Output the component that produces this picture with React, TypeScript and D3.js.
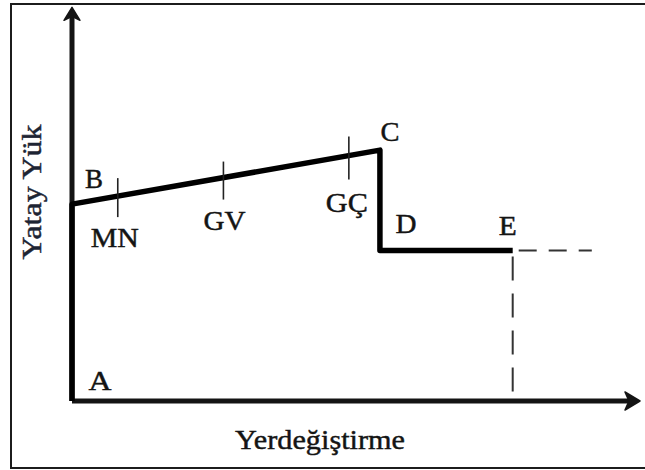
import React from "react";
import * as d3 from "d3";

// Data (abstract units, domain 0..100 on both axes)
const curveNames = ["A", "B", "C", "D", "E"];
const curveX = [0, 0, 54.5, 54.5, 78];
const curveY = [0, 51, 65, 39, 39];

const perfNames = ["MN", "GV", "GÇ"];
const perfX = [8.1, 26.8, 49];

const extendX = [78, 92];
const axisMax = [100, 102];

const xLabel = "Yerdeğiştirme";
const yLabel = "Yatay Yük";

const W = 645;
const H = 470;
const FONT = "Liberation Serif, Tinos, Times New Roman, serif";
const INK = "#141414";

export default function App() {
  const x = d3.scaleLinear().domain([0, 100]).range([72, 637]);
  const y = d3.scaleLinear().domain([0, 100]).range([401, 15]);

  const pts = curveNames.map((n, i) => ({ n, x: curveX[i], y: curveY[i] }));
  const line = d3
    .line<{ x: number; y: number }>()
    .x((d) => x(d.x))
    .y((d) => y(d.y));

  const B = pts[1];
  const C = pts[2];
  const E = pts[4];
  const lineY = d3.scaleLinear().domain([B.x, C.x]).range([B.y, C.y]);

  // label offsets (pixels) relative to their points, and rendered widths
  const curveLabelOff: Record<string, [number, number, number]> = {
    A: [28, -11, 23],
    B: [22, -16, 18],
    C: [10, -9, 19],
    D: [26, -17, 21],
    E: [-5, -15, 18],
  };
  const perfLabelOff: [number, number, number][] = [
    [-3, 51, 48],
    [1, 52, 42],
    [-2, 56, 42],
  ];
  const perfTick: [number, number][] = [
    [-18, 21],
    [-16, 22],
    [-19, 24],
  ];

  const x0 = x(0);
  const y0 = y(0);
  const xEnd = x(axisMax[0]);
  const yEnd = y(axisMax[1]);

  const textStyle = {
    fontFamily: FONT,
    fontSize: 27,
    fill: INK,
    stroke: INK,
    strokeWidth: 0.45,
  } as const;

  return (
    <svg
      width={W}
      height={H}
      style={{ position: "absolute", left: 0, top: 0, background: "#fff" }}
    >
      {/* frame */}
      <rect x={11} y={4} width={W + 10} height={464} fill="none" stroke="#1c1c1c" strokeWidth={2} />

      {/* dashed extensions */}
      <path
        d={line([{ x: extendX[0], y: E.y }, { x: extendX[1], y: E.y }])!}
        fill="none"
        stroke="#333"
        strokeWidth={2}
        strokeDasharray="18 12"
        strokeDashoffset={-6}
      />
      <path
        d={line([{ x: extendX[0], y: E.y }, { x: extendX[0], y: 0 }])!}
        fill="none"
        stroke="#333"
        strokeWidth={2}
        strokeDasharray="24 13"
        strokeDashoffset={-6}
      />

      {/* axes */}
      <line x1={x0} y1={y0} x2={xEnd - 6} y2={y0} stroke={INK} strokeWidth={5} />
      <line x1={x0} y1={y0} x2={x0} y2={yEnd + 6} stroke={INK} strokeWidth={5} />
      <path
        d={`M${xEnd + 3},${y0} L${xEnd - 12},${y0 - 9} L${xEnd - 8},${y0} L${xEnd - 12},${y0 + 9} Z`}
        fill={INK}
        stroke={INK}
        strokeWidth={1.5}
        strokeLinejoin="round"
      />
      <path
        d={`M${x0},${yEnd} L${x0 - 8},${yEnd + 13} L${x0},${yEnd + 9} L${x0 + 8},${yEnd + 13} Z`}
        fill={INK}
        stroke={INK}
        strokeWidth={1.5}
        strokeLinejoin="round"
      />

      {/* main curve */}
      <path
        d={line(pts)!}
        fill="none"
        stroke="#000"
        strokeWidth={5.5}
        strokeLinejoin="round"
      />

      {/* performance ticks */}
      {perfNames.map((n, i) => {
        const cx = x(perfX[i]);
        const cy = y(lineY(perfX[i]));
        return (
          <g key={n}>
            <line
              x1={cx}
              y1={cy + perfTick[i][0]}
              x2={cx}
              y2={cy + perfTick[i][1]}
              stroke="#222"
              strokeWidth={1.6}
            />
            <text
              x={cx + perfLabelOff[i][0]}
              y={cy + perfLabelOff[i][1]}
              textAnchor="middle"
              textLength={perfLabelOff[i][2]}
              lengthAdjust="spacingAndGlyphs"
              {...textStyle}
            >
              {n}
            </text>
          </g>
        );
      })}

      {/* curve labels */}
      {pts.map((p) => {
        const o = curveLabelOff[p.n];
        return (
          <text
            key={p.n}
            x={x(p.x) + o[0]}
            y={y(p.y) + o[1]}
            textAnchor="middle"
            textLength={o[2]}
            lengthAdjust="spacingAndGlyphs"
            {...textStyle}
          >
            {p.n}
          </text>
        );
      })}

      {/* axis titles */}
      <text
        x={320}
        y={449}
        textAnchor="middle"
        textLength={170}
        lengthAdjust="spacingAndGlyphs"
        {...textStyle}
        fontSize={28}
      >
        {xLabel}
      </text>
      <text
        transform={`translate(41,192) rotate(-90)`}
        textAnchor="middle"
        textLength={135}
        lengthAdjust="spacingAndGlyphs"
        {...textStyle}
        fontSize={28}
        fill="#1d2433"
        stroke="#1d2433"
      >
        {yLabel}
      </text>
    </svg>
  );
}
